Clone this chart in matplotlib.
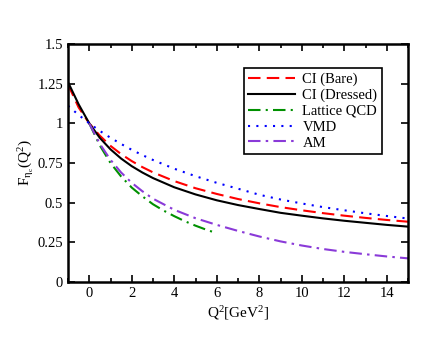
import matplotlib
matplotlib.use("Agg")
import matplotlib.pyplot as plt
from matplotlib.ticker import MultipleLocator

plt.rcParams['font.family'] = ['Liberation Serif', 'DejaVu Serif']
plt.rcParams['mathtext.fontset'] = 'stix'

# Data
q2_ci = [-1, -0.5, 0, 0.5, 1, 1.5, 2, 2.5, 3, 4, 5, 6, 7, 8, 9, 10, 11, 12, 13, 14, 15]
ci_bare = [1.245, 1.10, 1.0, 0.922, 0.858, 0.806, 0.762, 0.724, 0.691, 0.636, 0.591,
           0.555, 0.523, 0.496, 0.472, 0.452, 0.434, 0.418, 0.404, 0.391, 0.38]
ci_dressed = [1.26, 1.12, 1.0, 0.908, 0.836, 0.778, 0.73, 0.69, 0.655, 0.597, 0.552,
              0.515, 0.485, 0.46, 0.436, 0.418, 0.401, 0.386, 0.373, 0.36, 0.349]
vmd = [1.111, 1.053, 1.0, 0.952, 0.909, 0.870, 0.833, 0.8, 0.769, 0.714, 0.667,
       0.625, 0.588, 0.55, 0.52, 0.495, 0.472, 0.452, 0.433, 0.416, 0.4]

q2_lat = [0, 0.5, 1, 1.5, 2, 2.5, 3, 3.5, 4, 4.5, 5, 5.5, 5.9]
lattice = [1.0, 0.86, 0.75, 0.665, 0.595, 0.54, 0.49, 0.45, 0.415, 0.383, 0.355, 0.33, 0.312]

q2_am = [0, 0.5, 1, 1.5, 2, 2.5, 3, 4, 5, 6, 7, 8, 9, 10, 11, 12, 13, 14, 15]
am = [1.0, 0.87, 0.77, 0.69, 0.625, 0.572, 0.525, 0.455, 0.402, 0.36, 0.322, 0.287,
      0.256, 0.23, 0.208, 0.19, 0.175, 0.161, 0.149]

labels = ['CI (Bare)', 'CI (Dressed)', 'Lattice QCD', 'VMD', 'AM']

fig = plt.figure(figsize=(4.4, 3.4), dpi=100)
ax = fig.add_axes([68/440, 58/340, 340/440, 238/340])

lw = 1.5
ax.plot(q2_ci, ci_bare, color='#ff0000', lw=lw, dashes=(6, 3), label=labels[0])
ax.plot(q2_ci, ci_dressed, color='black', lw=lw, label=labels[1])
ax.plot(q2_lat, lattice, color='#009000', lw=lw, dashes=(6, 2.5, 1, 2.5), label=labels[2])
ax.plot(q2_ci, vmd, color='#0000ff', lw=lw, dashes=(1, 3), label=labels[3])
ax.plot(q2_am, am, color='#8a3ad8', lw=lw, dashes=(6, 2.5, 1.2, 2.5), label=labels[4])

ax.set_xlim(-1, 15)
ax.set_ylim(0, 1.5)
ax.xaxis.set_major_locator(MultipleLocator(2))
ax.xaxis.set_minor_locator(MultipleLocator(1))
ax.set_yticks([0, 0.25, 0.5, 0.75, 1.0, 1.25, 1.5])
ax.set_yticklabels(['0', '0.25', '0.5', '0.75', '1', '1.25', '1.5'])

ax.tick_params(which='both', direction='in', top=True, right=True, labelsize=10.5)
ax.tick_params(which='major', length=5, width=1.2)
ax.tick_params(which='minor', length=3, width=1.2)
for s in ax.spines.values():
    s.set_linewidth(1.8)

ax.set_xlabel(r'$\mathregular{Q^2[GeV^2]}$', fontsize=11, labelpad=3)
ax.set_ylabel(r'$\mathregular{F_{\eta_c}(Q^2)}$', fontsize=11, labelpad=1)

leg = ax.legend(loc='upper left', bbox_to_anchor=(0.518, 0.899), borderaxespad=0,
                fancybox=False, edgecolor='black', framealpha=1, fontsize=10.5,
                handlelength=3.2, labelspacing=0.18, handletextpad=0.5,
                borderpad=0.3)
leg.get_frame().set_linewidth(1.2)

fig.savefig('out.png', dpi=100)
